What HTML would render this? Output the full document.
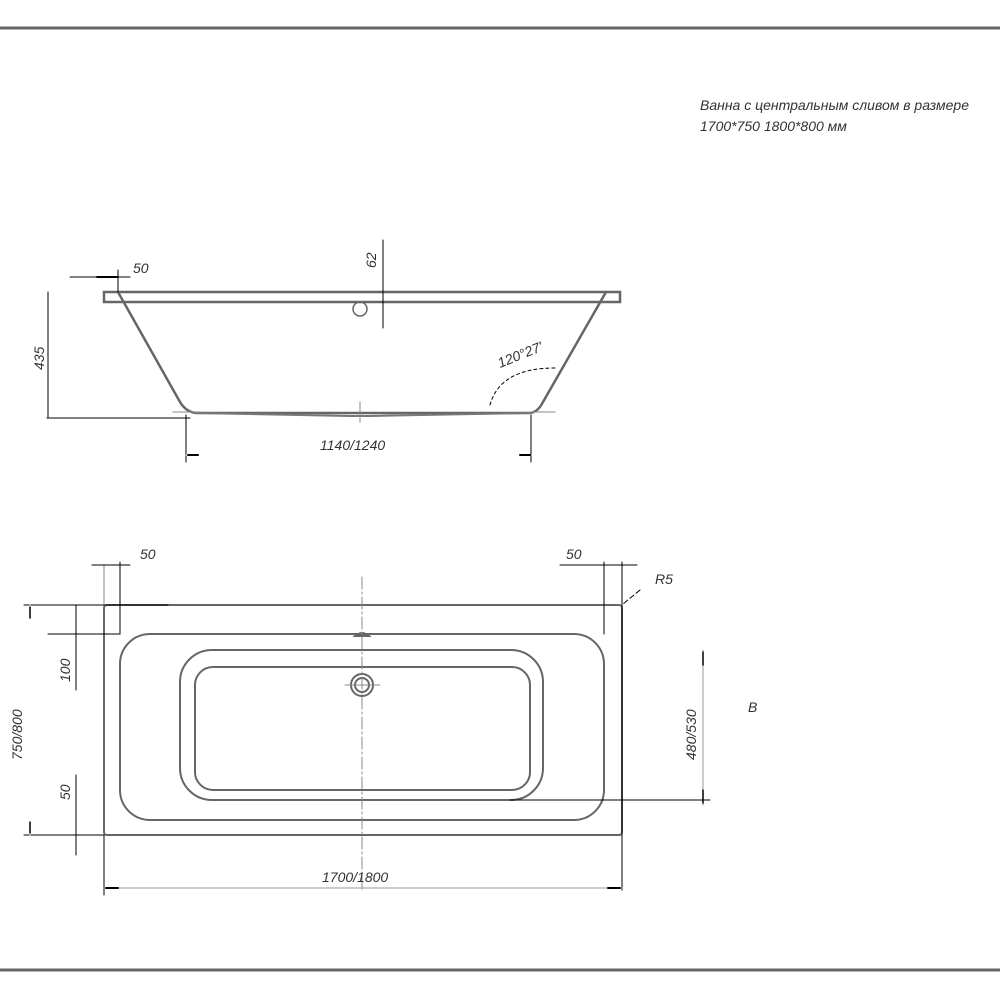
<!DOCTYPE html>
<html><head><meta charset="utf-8"><style>
html,body{margin:0;padding:0;background:#fff;}
svg{display:block;}
text{font-family:"Liberation Sans","DejaVu Sans",sans-serif;font-style:italic;fill:#333;font-size:14px;}
</style></head><body>
<svg width="1000" height="1000" viewBox="0 0 1000 1000" xmlns="http://www.w3.org/2000/svg">
<g fill="none" stroke-linecap="round">
<!-- frame lines -->
<line x1="0" y1="28" x2="1000" y2="28" stroke="#666" stroke-width="3"/>
<line x1="0" y1="970" x2="1000" y2="970" stroke="#666" stroke-width="3"/>

<!-- SIDE VIEW -->
<rect x="104" y="292" width="516" height="10" stroke="#666" stroke-width="2.5"/>
<path d="M118,292 L180,402 Q186,412 196,413 L530,413 Q538,412 543,402 L606,292" stroke="#666" stroke-width="2.5"/>
<path d="M196,413 L350,416 L370,416 L530,413" stroke="#777" stroke-width="2"/>
<circle cx="360" cy="309" r="7" stroke="#666" stroke-width="1.5"/>
<line x1="47" y1="418" x2="190" y2="418" stroke="#000" stroke-width="1"/>
<line x1="48" y1="292" x2="48" y2="418" stroke="#000" stroke-width="1"/>
<line x1="70" y1="277" x2="130" y2="277" stroke="#000" stroke-width="1"/>
<line x1="97" y1="277" x2="118" y2="277" stroke="#000" stroke-width="2"/>
<line x1="118" y1="270" x2="118" y2="292" stroke="#000" stroke-width="1"/>
<line x1="383" y1="240" x2="383" y2="328" stroke="#000" stroke-width="1"/>
<line x1="186" y1="415" x2="186" y2="462" stroke="#000" stroke-width="1"/>
<line x1="531" y1="415" x2="531" y2="462" stroke="#000" stroke-width="1"/>
<line x1="186" y1="455" x2="531" y2="455" stroke="#fff" stroke-width="1"/>
<line x1="188" y1="455" x2="198" y2="455" stroke="#000" stroke-width="2"/>
<line x1="520" y1="455" x2="530" y2="455" stroke="#000" stroke-width="2"/>
<line x1="173" y1="412" x2="200" y2="412" stroke="#888" stroke-width="1"/>
<line x1="530" y1="412" x2="555" y2="412" stroke="#888" stroke-width="1"/>
<path d="M490,405 Q500,368 555,368" stroke="#000" stroke-width="1" stroke-dasharray="3,3"/>
<line x1="360" y1="402" x2="360" y2="422" stroke="#888" stroke-width="1"/>

<!-- TOP VIEW -->
<rect x="104" y="605" width="518" height="230" rx="3" stroke="#666" stroke-width="2"/>
<rect x="120" y="634" width="484" height="186" rx="30" stroke="#666" stroke-width="2"/>
<rect x="180" y="650" width="363" height="150" rx="32" stroke="#666" stroke-width="2"/>
<rect x="195" y="667" width="335" height="123" rx="18" stroke="#666" stroke-width="2"/>
<circle cx="362" cy="685" r="11" stroke="#666" stroke-width="2"/>
<circle cx="362" cy="685" r="7" stroke="#666" stroke-width="2"/>
<path d="M355,636 Q362,630 369,636 Z" stroke="#666" stroke-width="2"/>
<line x1="362" y1="577" x2="362" y2="892" stroke="#888" stroke-width="1" stroke-dasharray="12,3,2,3"/>
<line x1="345" y1="685" x2="380" y2="685" stroke="#888" stroke-width="1"/>
<!-- 50 left -->
<line x1="104" y1="565" x2="104" y2="605" stroke="#888" stroke-width="1"/>
<line x1="120" y1="562" x2="120" y2="634" stroke="#000" stroke-width="1"/>
<line x1="92" y1="565" x2="130" y2="565" stroke="#000" stroke-width="1"/>
<!-- 50 right -->
<line x1="604" y1="562" x2="604" y2="634" stroke="#000" stroke-width="1"/>
<line x1="622" y1="562" x2="622" y2="890" stroke="#000" stroke-width="1"/>
<line x1="560" y1="565" x2="637" y2="565" stroke="#000" stroke-width="1"/>
<line x1="640" y1="590" x2="623" y2="604" stroke="#000" stroke-width="1" stroke-dasharray="5,3"/>
<!-- 750/800 -->
<line x1="24" y1="605" x2="168" y2="605" stroke="#000" stroke-width="1"/>
<line x1="24" y1="835" x2="104" y2="835" stroke="#000" stroke-width="1"/>
<line x1="30" y1="605" x2="30" y2="835" stroke="#fff" stroke-width="1"/>
<line x1="30" y1="607" x2="30" y2="618" stroke="#000" stroke-width="1.5"/>
<line x1="30" y1="822" x2="30" y2="833" stroke="#000" stroke-width="1.5"/>
<!-- 100 / 50 -->
<line x1="48" y1="634" x2="120" y2="634" stroke="#000" stroke-width="1"/>
<line x1="76" y1="605" x2="76" y2="690" stroke="#000" stroke-width="1"/>
<line x1="76" y1="775" x2="76" y2="855" stroke="#000" stroke-width="1"/>
<line x1="104" y1="835" x2="104" y2="895" stroke="#000" stroke-width="1"/>
<!-- 480/530 -->
<line x1="510" y1="800" x2="710" y2="800" stroke="#000" stroke-width="1"/>
<line x1="703" y1="650" x2="703" y2="805" stroke="#999" stroke-width="1"/>
<line x1="703" y1="652" x2="703" y2="665" stroke="#000" stroke-width="1.5"/>
<line x1="703" y1="790" x2="703" y2="803" stroke="#000" stroke-width="1.5"/>
<!-- 1700/1800 -->
<line x1="104" y1="888" x2="622" y2="888" stroke="#999" stroke-width="1"/>
<line x1="106" y1="888" x2="118" y2="888" stroke="#000" stroke-width="2"/>
<line x1="608" y1="888" x2="620" y2="888" stroke="#000" stroke-width="2"/>
</g>

<text x="700" y="110">Ванна с центральным сливом в размере</text>
<text x="700" y="131">1700*750 1800*800 мм</text>
<text x="133" y="273">50</text>
<text transform="translate(376,268) rotate(-90)">62</text>
<text transform="translate(44,370) rotate(-90)">435</text>
<text x="320" y="450">1140/1240</text>
<text transform="translate(500,368) rotate(-22)">120°27'</text>

<text x="140" y="559">50</text>
<text x="566" y="559">50</text>
<text x="655" y="584">R5</text>
<text transform="translate(22,760) rotate(-90)">750/800</text>
<text transform="translate(70,682) rotate(-90)">100</text>
<text transform="translate(70,800) rotate(-90)">50</text>
<text transform="translate(696,760) rotate(-90)">480/530</text>
<text x="748" y="712">B</text>
<text x="322" y="882">1700/1800</text>
</svg>
</body></html>
